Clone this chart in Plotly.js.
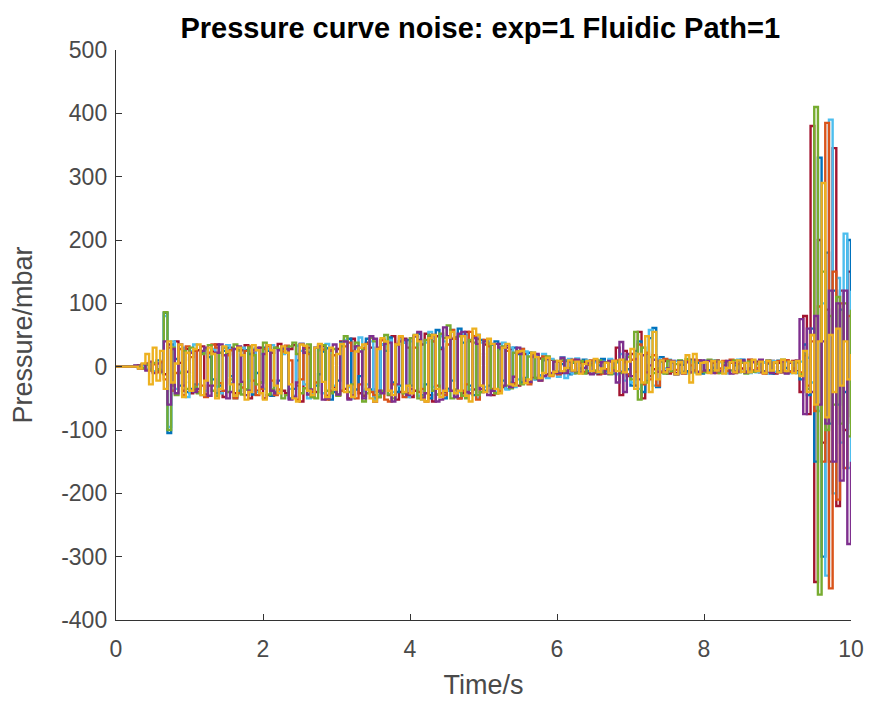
<!DOCTYPE html>
<html>
<head>
<meta charset="utf-8">
<script src="https://cdn.plot.ly/plotly-3.0.1.min.js"></script>
<style>html,body{margin:0;padding:0;background:#fff;}#chart{width:870px;height:706px;}</style>
</head>
<body>
<div id="chart"></div>
<script>
// Sampling: t0 = 0 s, step 0.05 s (201 samples, 0..10 s)
const t0 = 0;
const dt = 0.05;

const seriesBlue = [
0,0,0,0,0,1,-2,3,-4,6,-8,10,-6,85,-105,35,12,-30,25,-40,
-35,-28,-40,22,28,15,-20,-42,-30,25,30,-15,-48,-38,18,26,20,-44,-10,-25,
30,25,-46,-40,-22,28,31,-50,-35,10,36,28,22,-43,-30,-12,24,29,-52,-40,
-22,38,40,44,-48,-36,-15,28,44,-36,-50,-40,35,25,46,-25,-40,-30,38,42,
-30,49,52,-45,-28,-50,40,58,30,-50,-35,-22,45,60,38,-48,-30,-45,50,42,
-38,-30,35,40,28,-22,-35,-25,30,20,-25,-18,22,15,-20,-14,10,15,-12,-8,
-8,4,10,-12,6,-9,-3,11,-7,8,-10,2,12,-6,9,-11,7,-8,10,-4,
-30,25,40,-40,-22,45,61,-32,15,-10,-4,8,-12,9,3,-7,10,-8,6,-11,
9,-6,-2,8,-9,7,-10,8,2,-6,11,-8,-3,9,-7,10,-9,5,-11,8,
-7,9,-2,-8,6,-10,-20,35,-45,60,-150,330,-300,180,-90,120,-60,90,-40,200,
-100];

const seriesOrange = [
0,0,0,0,0,0,2,-3,5,-6,4,-9,8,-20,30,-38,-10,28,-45,32,
15,25,-40,-30,-48,22,35,30,-26,-38,18,26,-50,-42,-33,25,32,-22,-45,-35,
28,32,-22,-45,-36,24,33,10,-48,-52,-20,30,20,-40,-25,35,27,-52,-38,18,
-45,-38,32,38,25,-50,-28,29,36,-40,-45,30,42,-52,-55,-28,36,47,-48,-42,
45,30,-40,-35,-55,47,40,-30,-42,-45,35,58,44,-50,-38,-28,55,48,-52,-30,
42,32,-35,-42,-38,30,25,-28,-26,22,28,-22,-28,20,-18,-22,16,12,-15,-10,
-12,9,-7,-2,11,-10,6,-8,3,10,-9,7,-11,-4,8,-6,10,-9,7,-12,
11,-8,35,-28,22,-20,18,-30,-9,12,10,-8,-5,7,-11,9,2,-6,10,-8,
8,-9,6,-10,-3,9,-7,11,-8,4,6,-9,10,-7,-2,8,-11,7,-9,6,
9,-6,10,-8,-3,7,-9,18,-30,40,-70,95,-150,385,-350,150,-210,100,-160,80,
-90];

const seriesYellow = [
0,0,0,0,0,0,-3,5,20,-28,30,-22,25,-35,40,-25,5,35,-48,22,
-38,28,35,-45,-22,30,20,-50,-35,32,24,-28,-46,30,18,-52,-40,34,26,-42,
-52,34,26,-30,-42,32,22,-28,-50,-55,35,33,-38,-45,30,36,-24,-48,30,-36,
20,36,-40,-30,-48,24,30,35,-36,-50,-55,28,45,40,-38,-45,35,48,-40,-30,
-42,50,40,-52,-55,45,50,-35,-48,-38,46,55,-42,-38,48,-46,-55,60,50,-30,
-40,44,36,-35,-42,30,36,-28,-30,24,25,-26,-20,22,15,-18,-10,14,-14,-8,
9,-7,-2,10,-6,8,-11,4,9,-7,12,-8,-3,6,-10,9,-7,11,-9,8,
28,-35,20,-25,48,-40,55,-20,10,-9,-4,8,-12,7,-10,18,-25,20,-12,6,
7,-10,9,-6,8,-11,-2,7,-9,10,-8,6,-9,11,-7,8,-10,9,-6,7,
-9,11,-7,8,-10,9,-15,25,-40,50,-60,40,290,-80,50,-40,60,-30,40,-20,
20];

const seriesPurple = [
0,0,0,0,0,2,-3,4,-6,8,-10,5,-8,40,-60,28,-42,35,-30,-8,
22,-40,-35,25,30,-46,-30,22,35,18,-50,-40,28,32,-24,-45,-38,26,30,-32,
20,34,-38,-42,26,30,28,-52,-48,-25,36,22,-44,-36,30,32,-52,-50,25,35,
-44,36,40,-52,-45,32,24,-50,-35,48,44,-38,-42,36,38,-55,-28,40,42,-45,
-35,48,55,-50,-42,45,50,-55,-52,62,48,-38,-48,52,55,-40,-42,45,36,-35,
40,-45,-38,36,30,-30,34,-32,-16,30,20,-22,-24,16,20,-22,-15,12,-10,8,
-10,14,-10,8,-7,11,-9,-2,6,-12,10,-8,7,-11,9,-6,-25,39,-40,20,
-15,12,-20,18,-9,2,11,-8,10,-7,-3,9,-12,8,-10,7,-9,11,-8,10,
-6,9,-10,8,-7,2,9,-11,6,-8,10,-9,-3,7,-6,11,-8,9,-10,7,
-9,8,-11,6,-8,10,75,-75,60,-40,80,-60,40,-90,120,-150,100,-180,120,-280,
-150];

const seriesGreen = [
0,0,0,0,0,0,1,-2,3,-5,6,-4,-8,86,-100,30,-45,-10,25,-35,
30,-32,-42,20,28,34,-38,-46,22,30,-40,-20,35,26,-44,-36,30,18,-28,-25,
38,-44,-36,30,28,-50,-45,32,38,20,-42,-34,35,-48,-50,30,34,-38,-42,28,
-46,32,48,-40,-28,38,30,-55,-42,45,40,-48,-38,50,-44,-50,34,40,-42,-30,
45,48,-50,-48,42,50,-38,-44,52,45,65,-50,-36,48,-46,-50,42,38,-45,-40,
40,36,-38,-42,30,32,-30,-34,22,25,-28,-20,16,22,-18,-20,12,16,-12,9,
-9,11,-8,-3,7,-10,9,-11,8,2,-6,10,-9,7,-12,-2,8,-10,11,15,
-20,55,-52,30,-25,15,-10,-3,8,-11,9,-7,4,10,-8,12,-9,7,-10,8,
-9,11,-7,9,-10,3,8,-6,10,-9,7,-11,8,-8,4,9,-7,10,-9,6,
-8,11,-10,7,-9,8,-12,20,-35,50,410,-360,150,-100,80,-60,110,-90,100,-110,
90];

const seriesCyan = [
0,0,0,0,0,0,-1,2,-4,5,-7,6,-10,80,-95,40,-35,-8,30,-48,
25,35,-28,-45,-38,20,28,-32,-42,30,34,-26,-50,25,30,-36,-22,28,-40,20,
-35,28,34,-44,-40,20,30,-35,-46,33,25,-28,-50,-42,30,26,-42,36,22,-30,
-44,36,42,-32,-50,30,46,-38,-28,40,-52,-45,35,32,42,-40,-30,44,38,-48,
40,50,-46,-52,38,55,-32,-44,48,40,-38,58,-48,-40,52,50,-36,45,-50,38,
-32,40,36,-40,-34,38,-36,30,-32,-20,28,24,-26,-20,18,-16,20,-18,12,-10,
-16,15,-18,12,-11,13,-8,-2,10,-11,7,-9,8,-10,12,-7,-12,20,-22,18,
-25,20,-35,30,-18,58,-30,12,-9,-3,11,-8,9,-10,7,-11,8,-9,10,-7,
9,-9,10,-8,7,-2,-10,9,-7,11,-8,6,-10,8,-9,3,7,-11,9,-8,
10,-6,8,-10,7,-9,8,-6,14,-25,35,-70,100,-330,390,-200,140,-120,210,-160,
120];

const seriesRed = [
0,0,0,0,0,0,2,-2,3,-5,4,-6,7,-12,35,-30,40,6,-38,28,
-42,-36,26,32,-44,-30,24,35,-40,-48,20,30,-42,-28,26,34,-50,22,-38,30,
-50,-45,22,30,36,-38,-42,28,34,-30,-55,22,30,-48,-40,34,32,-46,26,-32,
28,40,-35,-50,44,32,-42,-46,38,30,-55,-48,42,35,-45,48,-52,-40,44,30,
-48,-38,42,35,52,-45,-55,48,28,-40,-35,44,46,-50,-42,55,40,-36,44,-40,
35,38,-45,-40,36,-32,30,28,-28,-30,22,20,-25,-18,17,13,-15,-12,11,-8,
8,-10,9,-3,-7,11,-9,7,-10,4,8,-12,9,-8,10,-7,30,-45,25,-15,
20,-30,55,-50,20,-15,-4,10,-8,9,-11,7,-10,3,8,-9,11,-7,10,-8,
9,-6,-2,10,-7,8,-9,6,-10,9,-3,-8,11,-6,8,-9,7,-10,9,-11,
6,-9,10,-8,9,-7,-40,80,-75,380,-340,200,-120,90,-150,345,-220,120,-100,150,
-80];

// drawing order (bottom to top) and colours
const allSeries = [seriesRed, seriesBlue, seriesCyan, seriesOrange, seriesGreen, seriesPurple, seriesYellow];
const colors = ['#A2142F','#0072BD','#4DBEEE','#D95319','#77AC30','#7E2F8E','#EDB120'];

const xTicks = [0,2,4,6,8,10];
const yTicks = [-400,-300,-200,-100,0,100,200,300,400,500];

const traces = allSeries.map((vals, k) => ({
  type: 'scatter',
  mode: 'lines',
  y: vals,
  x0: t0,
  dx: dt,
  line: {color: colors[k], width: 2.4, shape: 'hv'},
  hoverinfo: 'skip',
  showlegend: false
}));

const fam = '"Liberation Sans", Arial, Helvetica, sans-serif';
const axisFont = {family: fam, size: 23, color: '#4a4a4a'};
const titleFont = {family: fam, size: 27, color: '#4a4a4a'};

const layout = {
  width: 870, height: 706,
  margin: {l: 116, r: 19, t: 50, b: 86},
  paper_bgcolor: '#ffffff', plot_bgcolor: '#ffffff',
  title: {
    text: '<b>Pressure curve noise: exp=1 Fluidic Path=1</b>',
    font: {family: fam, size: 29, color: '#000000'},
    x: 0.552, xanchor: 'center', y: 0.96, yanchor: 'middle'
  },
  xaxis: {
    range: [0, 10], tickvals: xTicks, ticktext: xTicks.map(String),
    showline: true, linecolor: '#333333', linewidth: 1.2, mirror: false,
    ticks: 'inside', ticklen: 6, tickcolor: '#333333', tickwidth: 1,
    ticklabelstandoff: 8,
    showgrid: false, zeroline: false, tickfont: axisFont,
    title: {text: 'Time/s', font: titleFont, standoff: 14}
  },
  yaxis: {
    range: [-400, 500], tickvals: yTicks, ticktext: yTicks.map(String),
    showline: true, linecolor: '#333333', linewidth: 1.2, mirror: false,
    ticks: 'inside', ticklen: 6, tickcolor: '#333333', tickwidth: 1,
    ticklabelstandoff: 3,
    showgrid: false, zeroline: false, tickfont: axisFont,
    title: {text: 'Pressure/mbar', font: titleFont, standoff: 20}
  }
};

Plotly.newPlot('chart', traces, layout, {displayModeBar: false, staticPlot: true});
</script>
</body>
</html>
